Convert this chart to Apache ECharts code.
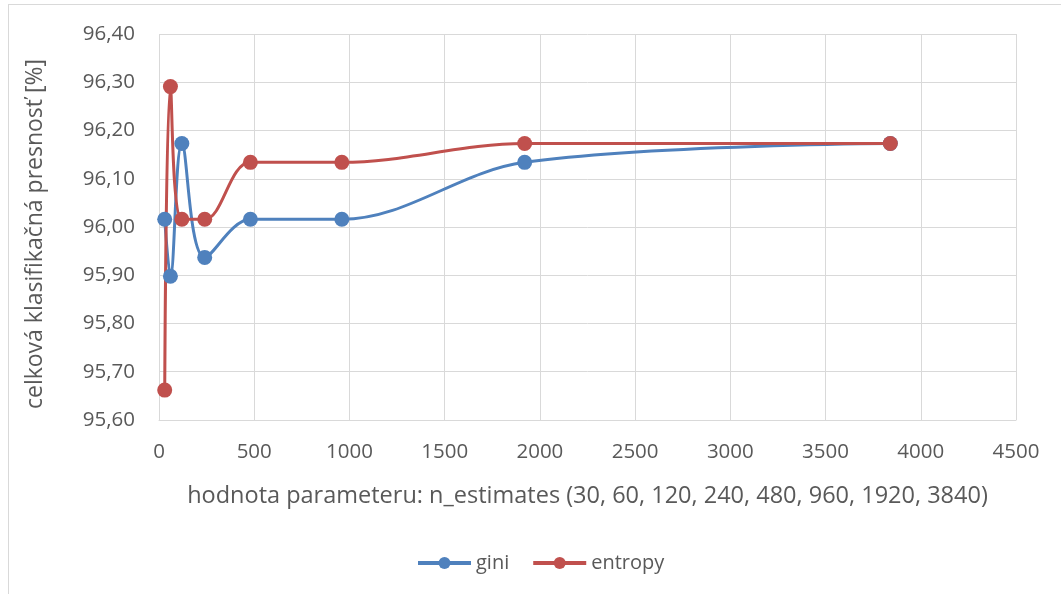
<!DOCTYPE html>
<html>
<head>
<meta charset="utf-8">
<script src="https://cdn.jsdelivr.net/npm/echarts@6/dist/echarts.min.js"></script>
<style>
  html, body { margin: 0; padding: 0; background: #fff; }
  #frame { position: absolute; left: 8px; top: 4px; right: -2px; bottom: -2px; border: 1px solid #d9d9d9; }
  #chart { position: absolute; left: 0; top: 0; width: 1061px; height: 594px; }
</style>
</head>
<body>
<div id="frame"></div>
<div id="chart"></div>
<script>
// n_estimators tested
const nEstimators = [30, 60, 120, 240, 480, 960, 1920, 3840];
// overall classification accuracy [%] per split criterion
const giniAcc    = [96.016, 95.898, 96.173, 95.937, 96.016, 96.016, 96.134, 96.173];
const entropyAcc = [95.662, 96.291, 96.016, 96.016, 96.134, 96.134, 96.173, 96.173];

const FONT = '"Open Sans", "Noto Sans", sans-serif';
const TXT = '#595959';

const chart = echarts.init(document.getElementById('chart'), null, { renderer: 'canvas' });

const pairs = arr => nEstimators.map((x, i) => [x, arr[i]]);

chart.setOption({
  animation: false,
  backgroundColor: 'transparent',
  grid: { left: 159, right: 45, top: 34, bottom: 174, containLabel: false },
  legend: {
    top: 548,
    left: 411,
    itemWidth: 53,
    itemHeight: 15,
    itemGap: 22,
    lineStyle: { width: 4 },
    textStyle: { fontFamily: FONT, fontSize: 20, color: TXT },
    data: ['gini', 'entropy']
  },
  xAxis: {
    type: 'value',
    min: 0, max: 4500, interval: 500,
    name: 'hodnota parameteru: n_estimates (30, 60, 120, 240, 480, 960, 1920, 3840)',
    nameLocation: 'middle',
    nameGap: 64,
    nameTextStyle: { fontFamily: FONT, fontSize: 23.5, color: TXT },
    axisLine: { show: true, lineStyle: { color: '#d9d9d9', width: 1 } },
    axisTick: { show: false },
    axisLabel: {
      fontFamily: FONT, fontSize: 20.5, color: TXT, margin: 22,
      formatter: v => String(v)
    },
    splitLine: { show: true, lineStyle: { color: '#d9d9d9', width: 1 } }
  },
  yAxis: {
    type: 'value',
    min: 95.6, max: 96.4, interval: 0.1,
    name: 'celková klasifikačná presnosť [%]',
    nameLocation: 'middle',
    nameGap: 112,
    nameRotate: 90,
    nameTextStyle: { fontFamily: FONT, fontSize: 23, color: TXT, padding: [0, 14, 0, 0] },
    axisLine: { show: false },
    axisTick: { show: false },
    axisLabel: {
      fontFamily: FONT, fontSize: 20.5, color: TXT, margin: 24,
      formatter: v => v.toFixed(2).replace('.', ',')
    },
    splitLine: { show: true, lineStyle: { color: '#d9d9d9', width: 1 } }
  },
  series: [
    {
      name: 'gini', type: 'line', data: pairs(giniAcc),
      smooth: 0.35, symbol: 'circle', symbolSize: 15,
      itemStyle: { color: '#4f81bd' },
      lineStyle: { color: '#4f81bd', width: 3 }
    },
    {
      name: 'entropy', type: 'line', data: pairs(entropyAcc),
      smooth: 0.35, symbol: 'circle', symbolSize: 15,
      itemStyle: { color: '#c0504d' },
      lineStyle: { color: '#c0504d', width: 3 }
    }
  ]
});
</script>
</body>
</html>
